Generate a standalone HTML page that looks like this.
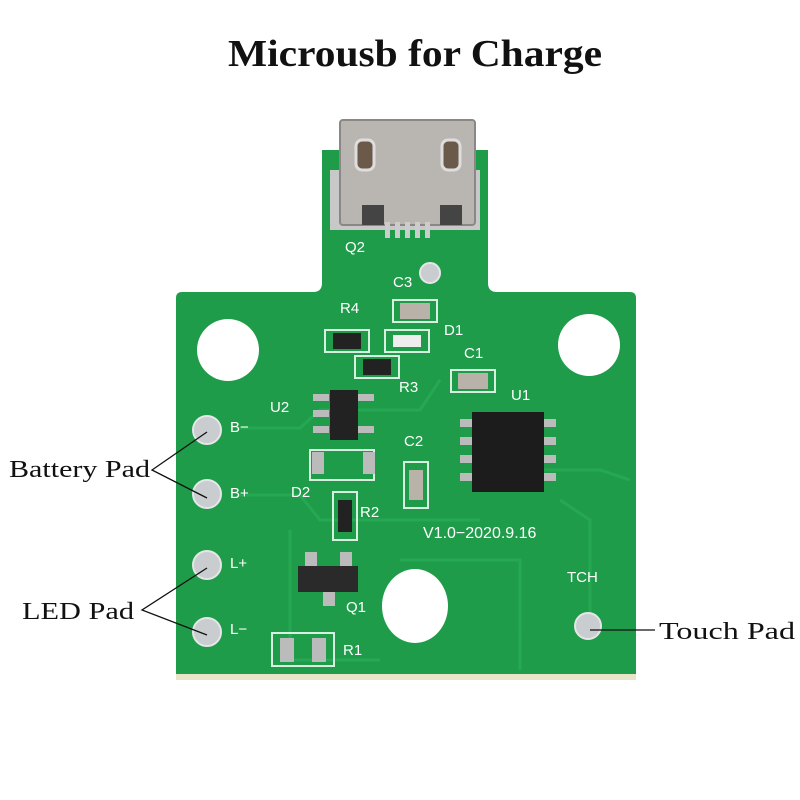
<!DOCTYPE html>
<html><head><meta charset="utf-8"><style>html,body{margin:0;padding:0;background:#fff}svg{display:block}</style></head>
<body>
<svg width="800" height="800" viewBox="0 0 800 800" xmlns="http://www.w3.org/2000/svg" font-family="Liberation Sans, sans-serif">
<rect width="800" height="800" fill="#fff"/>
<text x="228" y="66" textLength="374" lengthAdjust="spacingAndGlyphs" font-family="Liberation Serif, serif" font-weight="bold" font-size="38" fill="#111">Microusb for Charge</text>
<!-- board -->
<path d="M322 150 L488 150 L488 283 Q488 292 497 292 L630 292 Q636 292 636 298 L636 674 Q636 680 630 680 L182 680 Q176 680 176 674 L176 298 Q176 292 182 292 L313 292 Q322 292 322 283 Z" fill="#1f9c4a"/>
<rect x="176" y="674" width="460" height="6" fill="#e8e4c8"/>
<!-- traces -->
<g fill="none" stroke="#27aa55" stroke-width="3" opacity="0.9">
<path d="M240 428 L300 428 L320 410 L420 410 L440 380"/>
<path d="M240 495 L300 495 L320 520 L480 520"/>
<path d="M290 530 L290 660 L380 660"/>
<path d="M400 560 L520 560 L520 670"/>
<path d="M480 470 L600 470 L630 480"/>
<path d="M560 500 L590 520 L590 625"/>
</g>
<!-- holes -->
<circle cx="228" cy="350" r="31" fill="#fff"/>
<circle cx="589" cy="345" r="31" fill="#fff"/>
<ellipse cx="415" cy="606" rx="33" ry="37" fill="#fff"/>
<!-- USB -->
<rect x="330" y="170" width="150" height="60" fill="#c8c8c8"/>
<rect x="340" y="120" width="135" height="105" rx="3" fill="#b9b6b2" stroke="#8a8784" stroke-width="2"/>
<rect x="356" y="140" width="18" height="30" rx="6" fill="#6b5a4a" stroke="#ddd" stroke-width="3"/>
<rect x="442" y="140" width="18" height="30" rx="6" fill="#6b5a4a" stroke="#ddd" stroke-width="3"/>
<rect x="362" y="205" width="22" height="20" fill="#444"/>
<rect x="440" y="205" width="22" height="20" fill="#444"/>
<g fill="#ccc"><rect x="385" y="222" width="5" height="16"/><rect x="395" y="222" width="5" height="16"/><rect x="405" y="222" width="5" height="16"/><rect x="415" y="222" width="5" height="16"/><rect x="425" y="222" width="5" height="16"/></g>
<!-- pads -->
<g fill="#c9cdd0" stroke="#e4e6e8" stroke-width="2">
<circle cx="207" cy="430" r="14"/><circle cx="207" cy="494" r="14"/><circle cx="207" cy="565" r="14"/><circle cx="207" cy="632" r="14"/>
<circle cx="588" cy="626" r="13"/><circle cx="430" cy="273" r="10"/>
</g>
<!-- components -->
<g fill="none" stroke="#d8f0df" stroke-width="2">
<rect x="393" y="300" width="44" height="22"/>
<rect x="325" y="330" width="44" height="22"/>
<rect x="385" y="330" width="44" height="22"/>
<rect x="355" y="356" width="44" height="22"/>
<rect x="451" y="370" width="44" height="22"/>
<rect x="404" y="462" width="24" height="46"/>
<rect x="333" y="492" width="24" height="48"/>
<rect x="272" y="633" width="62" height="33"/>
<rect x="310" y="450" width="64" height="30"/>
</g>
<g fill="#b8b2a8">
<rect x="400" y="303" width="30" height="16"/><rect x="458" y="373" width="30" height="16"/><rect x="409" y="470" width="14" height="30"/>
</g>
<g fill="#222"><rect x="333" y="333" width="28" height="16"/><rect x="363" y="359" width="28" height="16"/><rect x="338" y="500" width="14" height="32"/></g>
<rect x="393" y="335" width="28" height="12" fill="#eee"/>
<rect x="330" y="390" width="28" height="50" fill="#222"/>
<g fill="#bbb"><rect x="313" y="394" width="16" height="7"/><rect x="313" y="410" width="16" height="7"/><rect x="313" y="426" width="16" height="7"/><rect x="358" y="394" width="16" height="7"/><rect x="358" y="426" width="16" height="7"/>
<rect x="312" y="452" width="12" height="22"/><rect x="363" y="452" width="12" height="22"/>
<rect x="305" y="552" width="12" height="14"/><rect x="340" y="552" width="12" height="14"/><rect x="323" y="592" width="12" height="14"/>
<rect x="280" y="638" width="14" height="24"/><rect x="312" y="638" width="14" height="24"/>
<rect x="460" y="419" width="16" height="8"/><rect x="460" y="437" width="16" height="8"/><rect x="460" y="455" width="16" height="8"/><rect x="460" y="473" width="16" height="8"/>
<rect x="540" y="419" width="16" height="8"/><rect x="540" y="437" width="16" height="8"/><rect x="540" y="455" width="16" height="8"/><rect x="540" y="473" width="16" height="8"/></g>
<rect x="298" y="566" width="60" height="26" fill="#2a2a2a"/>
<rect x="472" y="412" width="72" height="80" fill="#1c1c1c"/>
<g fill="#fff" font-size="15">
<text x="345" y="252">Q2</text><text x="393" y="287">C3</text><text x="340" y="313">R4</text><text x="444" y="335">D1</text><text x="464" y="358">C1</text>
<text x="399" y="392">R3</text><text x="511" y="400">U1</text><text x="270" y="412">U2</text><text x="404" y="446">C2</text>
<text x="230" y="432">B−</text><text x="230" y="498">B+</text><text x="230" y="568">L+</text><text x="230" y="634">L−</text>
<text x="291" y="497">D2</text><text x="360" y="517">R2</text><text x="423" y="538" font-size="16">V1.0−2020.9.16</text>
<text x="567" y="582">TCH</text><text x="346" y="612">Q1</text><text x="343" y="655">R1</text>
</g>
<g stroke="#111" stroke-width="1.3" fill="none">
<path d="M207 432 L152 470 L207 498"/>
<path d="M207 568 L142 610 L207 635"/>
<path d="M590 630 L655 630"/>
</g>
<g font-family="Liberation Serif, serif" font-size="24" fill="#111">
<text x="9" y="477" textLength="141" lengthAdjust="spacingAndGlyphs">Battery Pad</text>
<text x="22" y="619" textLength="112" lengthAdjust="spacingAndGlyphs">LED Pad</text>
<text x="659" y="639" textLength="136" lengthAdjust="spacingAndGlyphs">Touch Pad</text>
</g>
</svg>
</body></html>
